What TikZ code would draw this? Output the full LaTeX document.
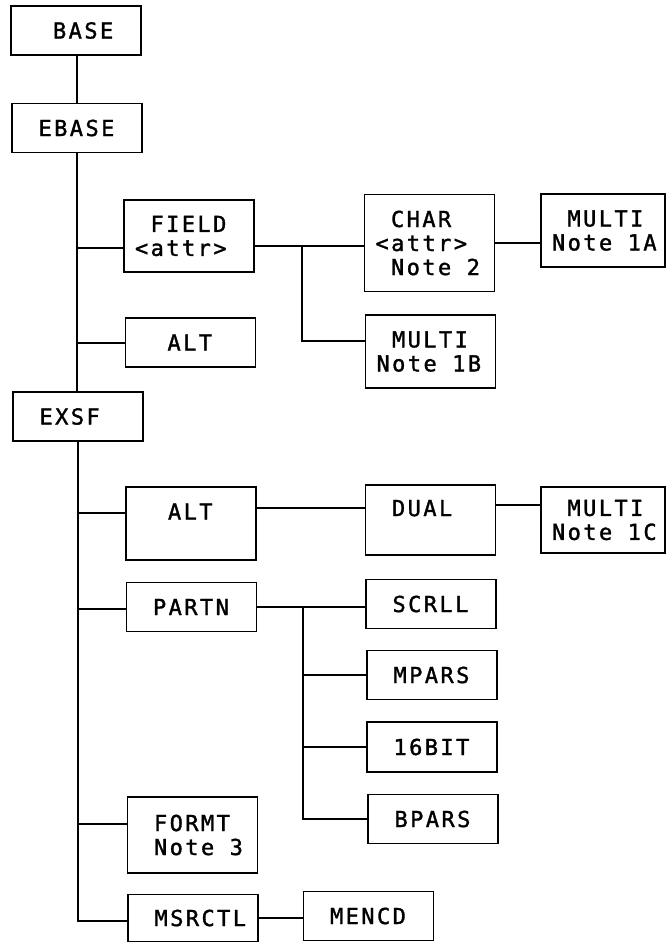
\documentclass[tikz,border=0pt]{standalone}
\usepackage{fontspec}
\newfontfamily\plotfont[LetterSpace=11,FakeBold=1.5]{DejaVu Sans Mono}
\usetikzlibrary{positioning}
\newcommand\pad{\hspace*{15.5pt}}
\tikzset{
  treebox/.style={draw, line width=1.8pt, inner xsep=11pt, inner ysep=0pt,
                  text width=108pt, align=left, minimum height=#1,
                  font=\plotfont\fontsize{22}{24}\selectfont},
  treebox/.default=49pt,
  link/.style={line width=1.8pt},
}

\begin{document}
\begin{tikzpicture}[x=1pt, y=-1pt]
  \useasboundingbox (0,0) rectangle (666,943);
  % upper part: BASE, EBASE and the field branch
  \node[treebox] (base) at (76,30.5) {\pad\pad BASE};
  \node[treebox] (ebase) at (77,128) {\pad EBASE};
  \node[treebox=72pt] (field) at (189,236) {\pad FIELD\\<attr>};
  \node[treebox=97pt] (char) at (429.5,243) {\pad CHAR\\<attr>\\\pad Note\pad 2};
  \node[treebox=73pt, text width=102pt] (multiA) at (603,230.5) {\pad MULTI\\Note\pad 1A};
  \node[treebox=73pt] (multiB) at (430.5,351.5) {\pad MULTI\\Note\pad 1B};
  \node[treebox] (altA) at (190.5,342.5) {\pad\pad ALT};
  \node[treebox] (exsf) at (78,416.5) {\pad EXSF};
  % lower part, hanging off EXSF
  \node[treebox=73pt] (altB) at (191,523.5) {\pad\pad ALT\\~};
  \node[treebox=70pt] (dual) at (430.5,520) {\pad DUAL\\~};
  \node[treebox=66pt, text width=102pt] (multiC) at (603,520) {\pad MULTI\\Note\pad 1C};
  \node[treebox] (partn) at (191.5,607) {\pad PARTN};
  \node[treebox] (scrll) at (431,604) {\pad SCRLL};
  \node[treebox] (mpars) at (432,675) {\pad MPARS};
  \node[treebox=50pt] (bit16) at (432,747) {\pad 16BIT};
  \node[treebox] (bpars) at (433,819) {\pad BPARS};
  \node[treebox=76pt] (formt) at (192.5,835) {\pad FORMT\\\pad Note\pad 3};
  \node[treebox=47pt] (msrctl) at (193,918) {\pad MSRCTL};
  \node[treebox] (mencd) at (368.5,916) {\pad MENCD};

  % first trunk
  \draw[link] (ebase.north |- base.south) -- (ebase.north);
  \draw[link] (ebase.south) -- (ebase.south |- exsf.north);
  \coordinate (jField) at (77,248);
  \coordinate (jAltA) at (77,343);
  \draw[link] (jField) -- (jField -| field.west);
  \draw[link] (jAltA) -- (jAltA -| altA.west);
  \coordinate (jChar) at (302,246);
  \coordinate (jMultiB) at (302,341);
  \draw[link] (jChar -| field.east) -- (jChar -| char.west);
  \draw[link] (jChar) -- (jMultiB) -- (jMultiB -| multiB.west);
  \draw[link] (char.east) -- (char.east -| multiA.west);

  % second trunk
  \coordinate (tEnd) at (79,921);
  \coordinate (jAltB) at (79,513);
  \coordinate (jPartn) at (79,609);
  \coordinate (jFormt) at (79,824);
  \draw[link] (exsf.south) -- (exsf.south |- tEnd) -- (tEnd -| msrctl.west);
  \draw[link] (jAltB) -- (jAltB -| altB.west);
  \draw[link] (jPartn) -- (jPartn -| partn.west);
  \draw[link] (jFormt) -- (jFormt -| formt.west);
  \draw[link] ([yshift=12pt]dual.west -| altB.east) -- ([yshift=12pt]dual.west);
  \draw[link] ([yshift=15pt]dual.east) -- ([yshift=15pt]dual.east -| multiC.west);
  \coordinate (jPart) at (303,607);
  \draw[link] (partn.east) -- (partn.east -| scrll.west);
  \draw[link] (jPart) |- (bpars.west);
  \draw[link] (jPart |- mpars.west) -- (mpars.west);
  \draw[link] (jPart |- bit16.west) -- (bit16.west);
  \draw[link] (msrctl.east) -- (msrctl.east -| mencd.west);
\end{tikzpicture}
\end{document}
